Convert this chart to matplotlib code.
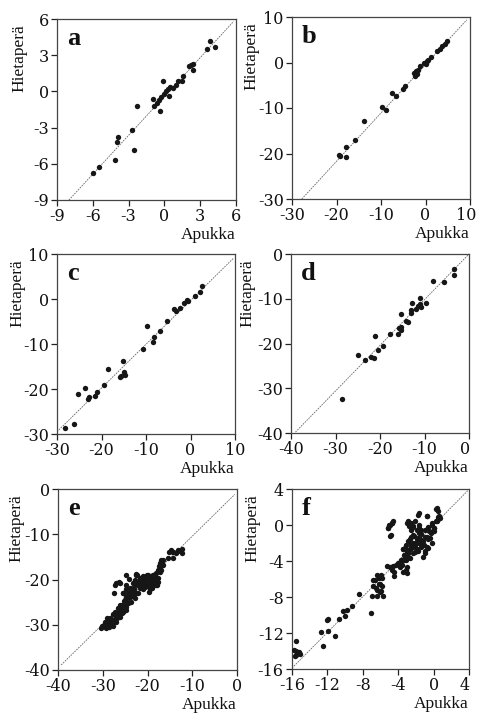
import matplotlib
matplotlib.use("Agg")
import matplotlib.pyplot as plt
import matplotlib.transforms as mtransforms

plt.rcParams['font.family'] = ['Liberation Serif', 'DejaVu Serif']
plt.rcParams['axes.unicode_minus'] = False

# ---------------- data (Apukka on x, Hietaperä on y) ----------------
a_apukka = [3.85, 3.6, 4.2, 2.2, 2.4, 2.4, 1.6, 1.5, 1.1, 1.0, -0.1, 0.5, 0.3, 0.1,
            -0.05, 0.4, -0.3, -0.45, -0.65, -0.9, -0.95, -0.4, -2.3, -2.7, -3.9,
            -4.0, -2.55, -4.1, -5.45, -6.0, 0.7, 2.1]
a_hietapera = [4.2, 3.5, 3.65, 2.2, 2.3, 1.8, 1.3, 0.85, 0.85, 0.5, 0.85, 0.4, 0.2, 0.0,
               -0.2, -0.4, -0.5, -0.7, -1.0, -1.2, -0.6, -1.6, -1.25, -3.2, -3.8,
               -4.2, -4.85, -5.7, -6.25, -6.75, 0.3, 2.1]

b_apukka = [-19.5, -19.2, -17.9, -17.9, -15.9, -13.9, -9.7, -8.8, -7.5, -6.6, -5.1, -4.6,
            -2.4, -2.2, -2.0, -1.7, -1.2, -0.3, 0.3, 0.65, 1.2, 2.5, 3.3, 3.8, 4.4, 4.9,
            -2.6, 0.1]
b_hietapera = [-20.3, -20.5, -18.6, -20.8, -17.0, -12.9, -9.8, -10.4, -6.6, -7.3, -5.8, -5.1,
               -3.0, -1.9, -2.5, -1.6, -0.8, 0.0, 0.25, 0.6, 1.1, 2.45, 3.0, 3.6, 4.1, 4.7,
               -2.2, -0.3]

c_apukka = [-28.1, -26.1, -25.3, -23.6, -23.1, -22.7, -21.4, -21.0, -19.5, -18.6, -15.8,
            -15.6, -15.2, -15.0, -14.7, -10.6, -9.7, -8.5, -8.2, -6.8, -5.3, -3.6, -3.2,
            -2.3, -1.4, -0.8, -0.5, 1.0, 2.1, 2.5]
c_hietapera = [-28.7, -27.8, -21.2, -19.7, -22.3, -21.7, -21.6, -20.6, -19.2, -15.6, -17.4,
               -17.1, -13.7, -16.3, -16.9, -11.1, -5.9, -9.6, -8.4, -7.0, -4.9, -2.3, -2.6,
               -1.9, -0.8, -0.2, -0.4, 0.7, 1.6, 3.0]

d_apukka = [-28.6, -25.0, -23.4, -22.0, -21.3, -21.1, -20.4, -19.3, -17.8, -15.9, -15.7,
            -15.3, -15.2, -15.2, -14.2, -13.8, -13.1, -13.1, -12.9, -11.8, -11.4, -11.0,
            -10.9, -10.7, -9.6, -8.1, -5.6, -3.4, -3.4]
d_hietapera = [-32.5, -22.5, -23.6, -23.0, -23.2, -18.4, -21.5, -20.6, -17.9, -17.8, -16.6,
               -16.4, -13.3, -16.9, -14.9, -15.1, -13.1, -12.5, -10.9, -12.4, -11.6, -11.2,
               -9.8, -11.9, -10.9, -6.0, -6.3, -3.4, -4.6]

e_apukka = [-14.7, -12.8, -13.6, -12.4, -14.3, -16.9, -17.3, -16.5, -17.4, -18.0, -18.4,
            -18.8, -17.7, -18.0, -19.1, -19.5, -19.9, -20.3, -20.6, -21.0, -21.4, -20.3,
            -19.9, -21.0, -21.7, -22.1, -22.5, -21.7, -19.7, -19.1, -18.8, -22.9, -23.2,
            -23.6, -24.0, -24.7, -24.4, -24.7, -24.0, -23.2, -22.5, -22.9, -23.6, -24.4,
            -25.1, -25.5, -24.9, -25.8, -26.2, -25.5, -26.6, -27.0, -26.2, -27.3, -27.7,
            -28.1, -28.5, -28.8, -29.2, -29.6, -30.1, -30.3, -29.3, -28.5, -27.6, -27.0,
            -26.6, -26.1, -27.3, -26.4, -27.5, -24.2, -22.6, -27.0, -24.9, -20.8, -19.3,
            -21.2, -23.9, -25.3, -26.8, -28.0, -29.0, -27.2, -25.0, -23.0, -21.5, -20.0,
            -18.5, -17.0, -15.5, -22.0, -24.5, -26.0, -28.3, -29.8, -20.5, -19.0, -23.3,
            -25.7,
            -14.4, -13.2, -12.4, -15.1, -14.4, -16.6, -16.8, -17.3, -17.7, -17.3, -18.8,
            -19.5, -20.2, -21.0, -21.7, -22.4, -22.9, -23.3, -22.2, -21.0, -19.9, -19.0,
            -17.9, -17.7, -19.5, -21.0, -22.2, -23.3, -24.0, -24.7, -25.5, -25.1, -24.4,
            -25.5, -24.7, -25.8, -26.2, -29.0, -28.2, -27.6, -26.9, -29.5, -28.7, -27.9]
e_hietapera = [-13.4, -13.8, -14.2, -13.3, -14.0, -15.6, -16.4, -16.8, -17.1, -18.6, -19.3,
               -19.0, -19.7, -21.2, -19.7, -20.1, -19.0, -19.3, -19.7, -19.3, -19.7, -20.4,
               -21.5, -20.8, -20.1, -20.8, -19.0, -21.9, -22.7, -21.9, -20.4, -21.2, -21.9,
               -22.7, -21.9, -21.2, -23.0, -23.8, -23.8, -23.4, -23.0, -24.1, -24.9, -25.2,
               -24.5, -23.0, -26.0, -26.3, -27.1, -27.1, -27.5, -28.2, -28.2, -28.8, -29.5,
               -28.8, -29.7, -28.9, -29.6, -30.0, -30.3, -30.8, -30.8, -30.4, -30.3, -29.3,
               -26.3, -25.6, -21.2, -20.5, -23.0, -19.9, -18.7, -20.8, -19.0, -20.9, -20.8,
               -21.0, -23.3, -24.8, -27.8, -29.0, -29.9, -27.2, -25.8, -22.0, -20.6, -20.9,
               -20.0, -17.8, -15.3, -21.4, -24.2, -26.9, -28.4, -30.0, -21.6, -21.0, -22.4,
               -25.6,
               -13.9, -13.5, -14.1, -13.9, -15.2, -15.6, -16.3, -17.2, -17.9, -18.3, -19.0,
               -19.4, -19.0, -19.4, -19.7, -19.0, -20.1, -20.8, -20.8, -20.5, -20.8, -21.7,
               -21.3, -20.5, -22.2, -22.2, -23.0, -22.8, -23.8, -22.2, -23.0, -24.5, -25.2,
               -26.1, -26.8, -27.5, -20.8, -28.6, -29.2, -27.7, -28.6, -29.4, -30.1, -29.7]

f_apukka = [-15.6, -15.8, -15.5, -15.2, -15.1, -15.6, -15.7, -12.7, -12.5, -11.9, -12.1,
            -11.9, -11.1, -10.7, -10.2, -10.0, -9.8, -9.2, -8.4, -7.1, -7.0, -6.8, -6.6,
            -6.4, -6.2, -6.1, -5.9, -5.7, -5.8, -6.4, -6.1, -5.3, -4.9, -4.6, -4.5, -4.7,
            -5.2, -5.0, -4.7, -4.6, -4.9, -4.0, -3.7, -3.4, -3.5, -3.2, -3.1, -3.1, -2.9,
            -2.7, -2.5, -2.3, -2.9, -2.5, -2.1, -2.8, -2.3, -1.9, -1.6, -1.7, -0.8, -1.4,
            -1.9, -1.6, -2.1, -2.5, -2.3, -2.9, -3.2, -3.1, -2.7, -1.9, -1.4, -1.0, -1.2,
            -0.8, -0.6, -1.0, -0.5, -0.2, 0.3, 0.5, 0.6, 0.3, 0.5, 0.7, 0.1, 0.0, -0.8,
            -1.2, -2.0, -1.5, -2.6, -1.1, -3.0, -2.2, -1.8, -0.3, -6.5, -6.0, -3.6,
            0.36, 0.5, 0.4, 0.1, -0.1, -0.8, -1.8, -4.9, -5.1, -4.7, -4.8, -3.0, -2.7,
            -2.3, -2.5, -1.6, -1.4, -0.6, -0.2, -1.6, -1.8, -1.9, -2.3, -2.5, -2.7, -3.0,
            -3.5, -3.2, -3.6, -3.3, -2.9, -2.1, -1.2, -1.0, -0.6, -0.2, -0.4, -1.0, -3.0,
            -3.8, -4.2, -4.7, -4.5, -3.5, -3.0, -6.4, -5.8, -6.8, -6.2]
f_hietapera = [-12.9, -13.9, -14.0, -14.1, -14.3, -14.4, -14.6, -11.9, -13.4, -11.8, -10.6,
               -10.4, -12.3, -10.4, -9.6, -10.1, -9.4, -9.0, -7.7, -9.8, -7.9, -6.8, -6.1,
               -7.2, -5.9, -6.6, -5.5, -7.9, -6.8, -7.9, -7.4, -4.6, -4.7, -4.5, -5.7, -5.0,
               -0.3, 0.0, 0.2, 0.4, -1.2, -4.2, -3.9, -3.3, -2.7, -2.6, -5.0, -2.2, -1.8,
               -1.6, -1.3, -1.1, 0.4, 0.2, 0.4, -0.1, -0.1, -0.5, -0.3, 1.3, 1.0, -1.0,
               -1.6, -2.0, -2.4, -2.6, -3.1, -3.1, -3.5, -3.9, -3.7, -2.7, -2.4, -2.9, -1.8,
               -1.3, -1.6, -0.5, -0.7, 0.0, 0.4, 0.7, 1.0, 1.8, 1.6, 0.8, -0.3, -0.7, -2.4,
               -3.5, -2.0, -1.5, -2.1, -2.2, -2.8, -1.2, -2.9, -0.9, -7.0, -7.3, -4.4,
               1.9, 0.9, 0.4, -0.3, -0.7, 1.0, 1.1, 0.0, -0.3, 0.2, -1.1, 0.2, 0.0,
               -0.2, -0.5, 0.0, -0.5, -0.2, 0.2, -0.9, -1.4, -1.9, -2.0, -2.4, -2.7, -3.0,
               -2.7, -3.3, -3.9, -3.9, -3.6, -3.0, -2.2, -3.1, -2.5, -2.0, -1.4, -1.3, -4.7,
               -4.7, -4.4, -4.7, -5.2, -5.2, -5.3, -5.6, -5.9, -6.1, -6.6]

panel_letters = ['a', 'b', 'c', 'd', 'e', 'f']
x_ticks = [[-9, -6, -3, 0, 3, 6], [-30, -20, -10, 0, 10], [-30, -20, -10, 0, 10],
           [-40, -30, -20, -10, 0], [-40, -30, -20, -10, 0], [-16, -12, -8, -4, 0, 4]]
y_ticks = x_ticks
# 1:1 guide line end points
line_x = [[-8.0, 5.8], [-27.8, 9.3], [-30.0, 9.6], [-39.0, 0.0], [-39.3, -0.5], [-16.0, 3.9]]
line_y = [[-9.0, 5.8], [-30.0, 9.4], [-29.5, 9.0], [-39.8, 0.0], [-38.9, -1.2], [-15.9, 3.85]]

xs = [a_apukka, b_apukka, c_apukka, d_apukka, e_apukka, f_apukka]
ys = [a_hietapera, b_hietapera, c_hietapera, d_hietapera, e_hietapera, f_hietapera]

# ---------------- layout ----------------
W, H = 478, 716
fig = plt.figure(figsize=(W / 100, H / 100), dpi=100)
# (left, top, right, bottom) in pixels
boxes = [(57, 19, 236, 200), (292, 17, 470, 199),
         (57, 254, 235, 434), (291, 254, 469, 433),
         (58, 489, 237, 670), (292, 489, 469, 669)]
ylab_x = [-0.212, -0.225, -0.22, -0.247, -0.23, -0.226]

for i, (l, t, r, b) in enumerate(boxes):
    ax = fig.add_axes([l / W, 1 - b / H, (r - l) / W, (b - t) / H])
    ax.scatter(xs[i], ys[i], s=15, color='#161616', linewidths=0, zorder=3)
    ax.plot(line_x[i], line_y[i], color='#666666', lw=0.6, ls=(0, (2, 1.2)), zorder=2)
    ax.set_xlim(x_ticks[i][0], x_ticks[i][-1])
    ax.set_ylim(y_ticks[i][0], y_ticks[i][-1])
    ax.set_xticks(x_ticks[i])
    ax.set_yticks(y_ticks[i])
    ax.set_xticklabels([str(v) for v in x_ticks[i]], family='DejaVu Serif')
    ax.set_yticklabels([str(v) for v in y_ticks[i]], family='DejaVu Serif')
    ax.tick_params(direction='out', length=4, width=0.9, labelsize=11.5,
                   pad=2, colors='#222222', labelcolor='#111111')
    # keep the right-most x tick label inside the figure edge
    if r >= 466:
        lab = ax.get_xticklabels()[-1]
        lab.set_transform(lab.get_transform() +
                          mtransforms.ScaledTranslation(-4 / 100, 0, fig.dpi_scale_trans))
    for sp in ax.spines.values():
        sp.set_linewidth(0.9)
        sp.set_color('#444444')
    ax.text(0.055, 0.955, panel_letters[i], transform=ax.transAxes, ha='left', va='top',
            fontsize=19, fontweight='bold', color='#111111')
    ax.text(ylab_x[i], 0.97, 'Hietaperä', transform=ax.transAxes, rotation=90,
            ha='center', va='top', fontsize=12.5, color='#111111')
    ax.text(1.0, -0.15, 'Apukka', transform=ax.transAxes, ha='right', va='top',
            fontsize=12.5, color='#111111')

fig.savefig('out.png', dpi=100, facecolor='white')
